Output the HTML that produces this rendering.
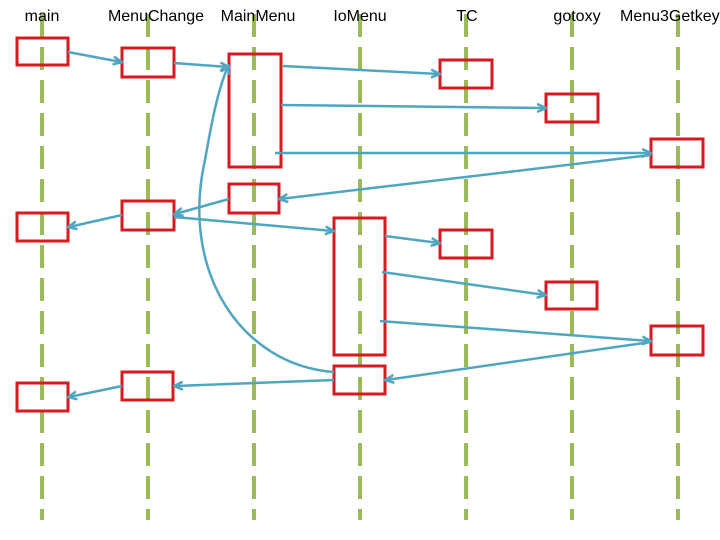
<!DOCTYPE html>
<html><head><style>
html,body{margin:0;padding:0;background:#fff;}
svg{display:block;}
text{font-family:"Liberation Sans","DejaVu Sans",sans-serif;font-size:16px;fill:#000;}
</style></head><body>
<svg width="720" height="540" viewBox="0 0 720 540" xmlns="http://www.w3.org/2000/svg">
<defs>
<marker id="a" markerWidth="10" markerHeight="10" refX="8" refY="5" orient="auto" markerUnits="userSpaceOnUse">
<path d="M0,1 L9,5 L0,9" fill="none" stroke="#4fa6c0" stroke-width="2.5"/>
</marker>
</defs>
<g stroke="#9bbb59" stroke-width="4" stroke-dasharray="23 10">
<line x1="42" y1="14" x2="42" y2="520"/>
<line x1="148" y1="14" x2="148" y2="520"/>
<line x1="254" y1="14" x2="254" y2="520"/>
<line x1="360" y1="14" x2="360" y2="520"/>
<line x1="466" y1="14" x2="466" y2="520"/>
<line x1="572" y1="14" x2="572" y2="520"/>
<line x1="678" y1="14" x2="678" y2="520"/>
</g>
<text x="42" y="21" text-anchor="middle">main</text>
<text x="156" y="21" text-anchor="middle">MenuChange</text>
<text x="258" y="21" text-anchor="middle">MainMenu</text>
<text x="360" y="21" text-anchor="middle">IoMenu</text>
<text x="467" y="21" text-anchor="middle">TC</text>
<text x="577" y="21" text-anchor="middle">gotoxy</text>
<text x="620" y="21">Menu3Getkey</text>
<g fill="none" stroke="#d71920" stroke-width="3">
<rect x="17" y="38" width="51" height="27"/>
<rect x="122" y="48" width="52" height="29"/>
<rect x="229" y="54" width="52" height="113"/>
<rect x="229" y="184" width="50" height="29"/>
<rect x="17" y="213" width="51" height="28"/>
<rect x="122" y="201" width="52" height="29"/>
<rect x="440" y="60" width="52" height="28"/>
<rect x="546" y="94" width="52" height="28"/>
<rect x="651" y="139" width="52" height="28"/>
<rect x="334" y="218" width="51" height="137"/>
<rect x="440" y="230" width="52" height="28"/>
<rect x="546" y="282" width="51" height="27"/>
<rect x="651" y="326" width="52" height="29"/>
<rect x="334" y="366" width="51" height="28"/>
<rect x="122" y="372" width="51" height="28"/>
<rect x="17" y="383" width="51" height="28"/>
</g>
<g fill="none" stroke="#4fa6c0" stroke-width="2.5" marker-end="url(#a)">
<line x1="68" y1="52" x2="121" y2="62"/>
<line x1="174" y1="63" x2="228" y2="67"/>
<line x1="283" y1="66" x2="439" y2="74"/>
<line x1="281" y1="105" x2="545" y2="108"/>
<line x1="275" y1="153" x2="650" y2="153"/>
<line x1="651" y1="155" x2="280" y2="199"/>
<line x1="229" y1="199" x2="175" y2="214"/>
<line x1="122" y1="215" x2="69" y2="227"/>
<line x1="174" y1="217" x2="333" y2="231"/>
<line x1="385" y1="236" x2="439" y2="243"/>
<line x1="382" y1="272" x2="545" y2="295"/>
<line x1="380" y1="321" x2="650" y2="341"/>
<line x1="651" y1="342" x2="386" y2="380"/>
<line x1="334" y1="380" x2="175" y2="386"/>
<line x1="122" y1="386" x2="69" y2="397"/>
<path d="M334,372 C240,365 180,270 205,160 C212,120 218,90 228,66"/>
</g>
</svg>
</body></html>
